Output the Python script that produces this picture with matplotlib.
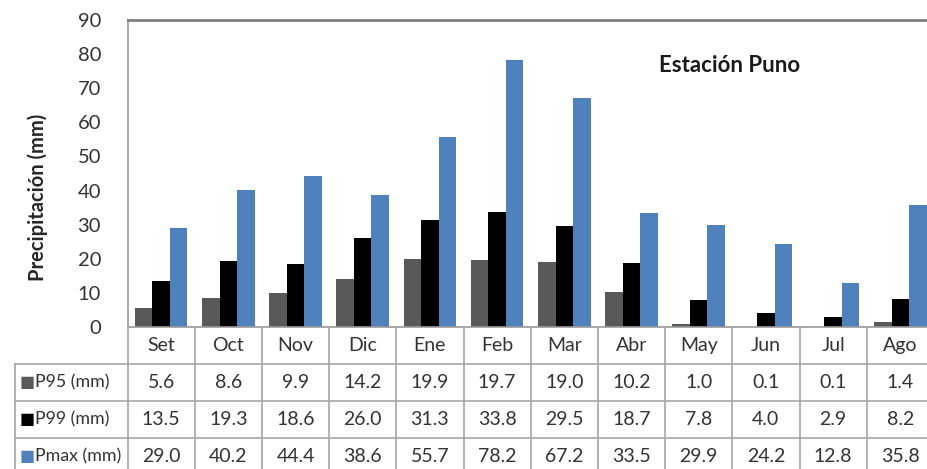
import matplotlib
matplotlib.use("Agg")
import matplotlib.pyplot as plt
import numpy as np

plt.rcParams['font.family'] = ['Lato', 'DejaVu Sans']

months = ["Set", "Oct", "Nov", "Dic", "Ene", "Feb", "Mar", "Abr", "May", "Jun", "Jul", "Ago"]
p95 = [5.6, 8.6, 9.9, 14.2, 19.9, 19.7, 19.0, 10.2, 1.0, 0.1, 0.1, 1.4]
p99 = [13.5, 19.3, 18.6, 26.0, 31.3, 33.8, 29.5, 18.7, 7.8, 4.0, 2.9, 8.2]
pmax = [29.0, 40.2, 44.4, 38.6, 55.7, 78.2, 67.2, 33.5, 29.9, 24.2, 12.8, 35.8]
series_names = ["P95 (mm)", "P99 (mm)", "Pmax (mm)"]
series_vals = [p95, p99, pmax]
colors = ["#595959", "#000000", "#4F81BD"]
yticks = [0, 10, 20, 30, 40, 50, 60, 70, 80, 90]

W, H = 927, 469
fig = plt.figure(figsize=(W / 100, H / 100), dpi=100)

# layout in pixels
ax_left, ax_top, ax_bottom = 127.5, 20, 327
col_w = 67.2
n = len(months)
ax_right = ax_left + n * col_w
ax = fig.add_axes([ax_left / W, (H - ax_bottom) / H, (ax_right - ax_left) / W, (ax_bottom - ax_top) / H])

x = np.arange(n)
bw = 0.26
for k, (vals, c) in enumerate(zip(series_vals, colors)):
    ax.bar(x + (k - 1) * bw, vals, width=bw, color=c, edgecolor='none', zorder=2)

ax.set_xlim(-0.5, n - 0.5)
ax.set_ylim(0, 90)
ax.set_yticks(yticks)
ax.set_xticks([])
ax.tick_params(axis='y', length=0, pad=19, labelsize=14.5, labelcolor='#333333')
for s in ['left', 'bottom']:
    ax.spines[s].set_color('#9a9a9a')
    ax.spines[s].set_linewidth(1.2)
ax.spines['top'].set_color('#808080')
ax.spines['top'].set_linewidth(2)
ax.spines['right'].set_visible(False)

fig.text(38 / W, 1 - 197 / H, "Precipitación (mm)", rotation=90, ha='center', va='center',
         fontsize=14.5, fontweight='bold', color='#262626')
fig.text(729.5 / W, 1 - 65 / H, "Estación Puno", ha='center', va='center',
         fontsize=16, fontweight='bold', color='#1a1a1a')

# table axes: x shares data units with main axes, y in pixel rows below the plot
row_h = 37.0
tab_h = H - ax_bottom
tab = fig.add_axes([ax_left / W, 0, (ax_right - ax_left) / W, tab_h / H])
tab.set_xlim(-0.5, n - 0.5)
tab.set_ylim(tab_h, 0)
tab.axis('off')
line_c = '#a6a6a6'
left_x = -0.5 - (ax_left - 14.7) / col_w
nrows = 1 + len(series_names)
# vertical lines
for i in range(n + 1):
    tab.plot([i - 0.5, i - 0.5], [0, tab_h], color=line_c, lw=1.2, clip_on=False)
tab.plot([left_x, left_x], [row_h, tab_h], color=line_c, lw=1.2, clip_on=False)
# horizontal lines
for r in range(1, nrows):
    tab.plot([left_x, n + 1], [r * row_h, r * row_h], color=line_c, lw=1.2, clip_on=False)

txt_c = '#333333'
for i, m in enumerate(months):
    tab.text(i, 0.5 * row_h, m, ha='center', va='center', fontsize=14, color=txt_c)
for r, (name, vals, c) in enumerate(zip(series_names, series_vals, colors)):
    yc = (r + 1.5) * row_h
    tab.text(left_x + 0.08, yc, "\u25A0", ha='left', va='center', fontsize=11.5, color=c,
             family='DejaVu Sans', clip_on=False)
    tab.text(left_x + 0.3, yc, name, ha='left', va='center', fontsize=12.8, color=txt_c, clip_on=False)
    for i, v in enumerate(vals):
        tab.text(i, yc, f"{v:.1f}", ha='center', va='center', fontsize=14, color=txt_c)

fig.savefig("out.png", dpi=100)
